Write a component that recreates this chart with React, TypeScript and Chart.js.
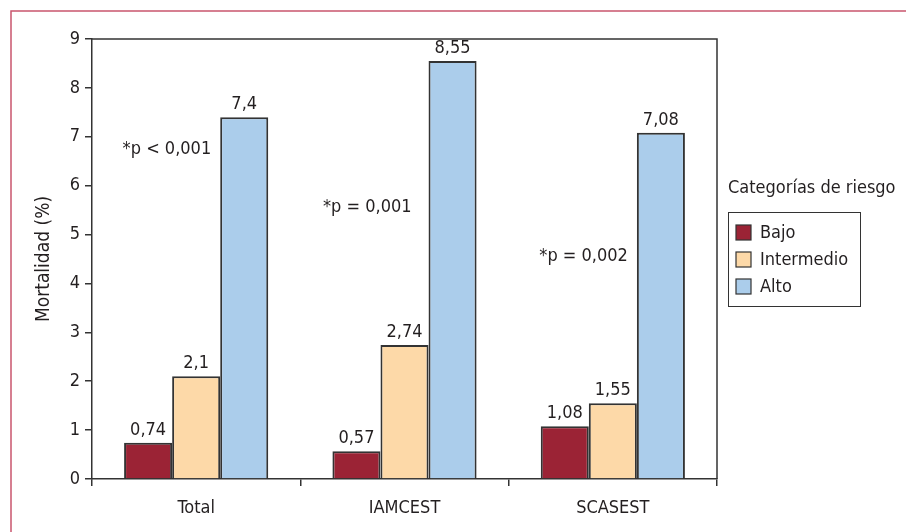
import React, { useEffect, useRef } from "react";
import { Chart, registerables } from "chart.js";

Chart.register(...registerables);

const categories = ["Total", "IAMCEST", "SCASEST"];
const seriesNames = ["Bajo", "Intermedio", "Alto"];
const bajo = [0.74, 0.57, 1.08];
const intermedio = [2.1, 2.74, 1.55];
const alto = [7.4, 8.55, 7.08];
const pTexts = ["*p < 0,001", "*p = 0,001", "*p = 0,002"];
const pLevels = [6.75, 5.55, 4.55];
const yTicks = [0, 1, 2, 3, 4, 5, 6, 7, 8, 9];
const legendTitle = "Categorías de riesgo";
const yTitle = "Mortalidad (%)";

const colors = ["#9b2335", "#fdd9a8", "#abcdeb"];
const pGaps = [9, 17, 9];
const FONT = "'Liberation Sans Narrow', 'DejaVu Sans Condensed', 'Roboto', sans-serif";
const TEXT = "#231f20";
const LINE = "#333333";

const fmt = (v: number) => String(v).replace(".", ",");

const extrasPlugin = {
  id: "extras",
  beforeDraw(chart: any) {
    const ctx = chart.ctx;
    ctx.save();
    ctx.fillStyle = "#ffffff";
    ctx.fillRect(0, 0, chart.width, chart.height);
    ctx.strokeStyle = "#c9566e";
    ctx.lineWidth = 1.5;
    ctx.beginPath();
    ctx.moveTo(11, chart.height);
    ctx.lineTo(11, 11);
    ctx.lineTo(chart.width, 11);
    ctx.stroke();
    ctx.restore();
  },
  afterDatasetsDraw(chart: any) {
    const ctx = chart.ctx;
    const area = chart.chartArea;
    ctx.save();
    ctx.strokeStyle = LINE;
    ctx.lineWidth = 1.5;
    ctx.beginPath();
    ctx.moveTo(area.left, area.top);
    ctx.lineTo(area.right, area.top);
    ctx.lineTo(area.right, area.bottom);
    ctx.stroke();

    ctx.font = `18px ${FONT}`;
    ctx.fillStyle = TEXT;
    ctx.textAlign = "center";
    ctx.textBaseline = "alphabetic";
    chart.data.datasets.forEach((ds: any, di: number) => {
      const meta = chart.getDatasetMeta(di);
      meta.data.forEach((bar: any, i: number) => {
        ctx.fillText(fmt(ds.data[i]), bar.x, bar.y - 8);
      });
    });

    const altoMeta = chart.getDatasetMeta(2);
    const yScale = chart.scales.y;
    ctx.textAlign = "right";
    ctx.textBaseline = "middle";
    pTexts.forEach((t, i) => {
      const bar: any = altoMeta.data[i];
      const left = bar.x - bar.width / 2;
      ctx.fillText(t, left - pGaps[i], yScale.getPixelForValue(pLevels[i]));
    });

    const lx = 728;
    ctx.textAlign = "left";
    ctx.textBaseline = "middle";
    ctx.fillText(legendTitle, lx, 188);
    ctx.strokeStyle = LINE;
    ctx.lineWidth = 1;
    ctx.strokeRect(lx + 0.5, 212.5, 132, 94);
    seriesNames.forEach((n, i) => {
      const cy = 232 + i * 27;
      ctx.fillStyle = colors[i];
      ctx.fillRect(736, cy - 7, 15, 15);
      ctx.strokeStyle = LINE;
      ctx.lineWidth = 1.2;
      ctx.strokeRect(736, cy - 7, 15, 15);
      ctx.fillStyle = TEXT;
      ctx.fillText(n, 760, cy + 1);
    });
    ctx.restore();
  },
};

export default function App() {
  const ref = useRef<HTMLCanvasElement | null>(null);
  useEffect(() => {
    if (!ref.current) return;
    const data = [bajo, intermedio, alto];
    const chart = new Chart(ref.current, {
      type: "bar",
      data: {
        labels: categories,
        datasets: seriesNames.map((n, i) => ({
          label: n,
          data: data[i],
          backgroundColor: colors[i],
          borderColor: LINE,
          borderWidth: 2,
          categoryPercentage: 0.692,
          barPercentage: 1,
        })),
      },
      options: {
        responsive: false,
        animation: false,
        devicePixelRatio: 1,
        layout: { padding: { left: 0, right: 189, top: 39, bottom: 0 } },
        plugins: { legend: { display: false }, tooltip: { enabled: false } },
        scales: {
          x: {
            offset: true,
            afterFit: (s: any) => {
              s.height = 53;
            },
            grid: {
              display: true,
              offset: true,
              drawOnChartArea: false,
              drawTicks: true,
              tickLength: 7,
              color: LINE,
              lineWidth: 1.5,
            },
            border: { display: true, color: LINE, width: 1.5 },
            ticks: { color: TEXT, font: { family: FONT, size: 18 }, padding: 12 },
          },
          y: {
            min: 0,
            max: 9,
            afterFit: (s: any) => {
              s.width = 92;
            },
            afterBuildTicks: (s: any) => {
              s.ticks = yTicks.map((v) => ({ value: v }));
            },
            grid: {
              display: true,
              drawOnChartArea: false,
              drawTicks: true,
              tickLength: 7,
              color: LINE,
              lineWidth: 1.5,
            },
            border: { display: true, color: LINE, width: 1.5 },
            ticks: { color: TEXT, font: { family: FONT, size: 18 }, padding: 5 },
            title: {
              display: true,
              text: yTitle,
              color: TEXT,
              font: { family: FONT, size: 19 },
              padding: { top: 33, bottom: 0 },
            },
          },
        },
      },
      plugins: [extrasPlugin],
    });
    return () => chart.destroy();
  }, []);
  return (
    <div style={{ position: "fixed", left: 0, top: 0, width: 906, height: 532, background: "#fff" }}>
      <canvas ref={ref} width={906} height={532} style={{ width: 906, height: 532, display: "block" }} />
    </div>
  );
}
